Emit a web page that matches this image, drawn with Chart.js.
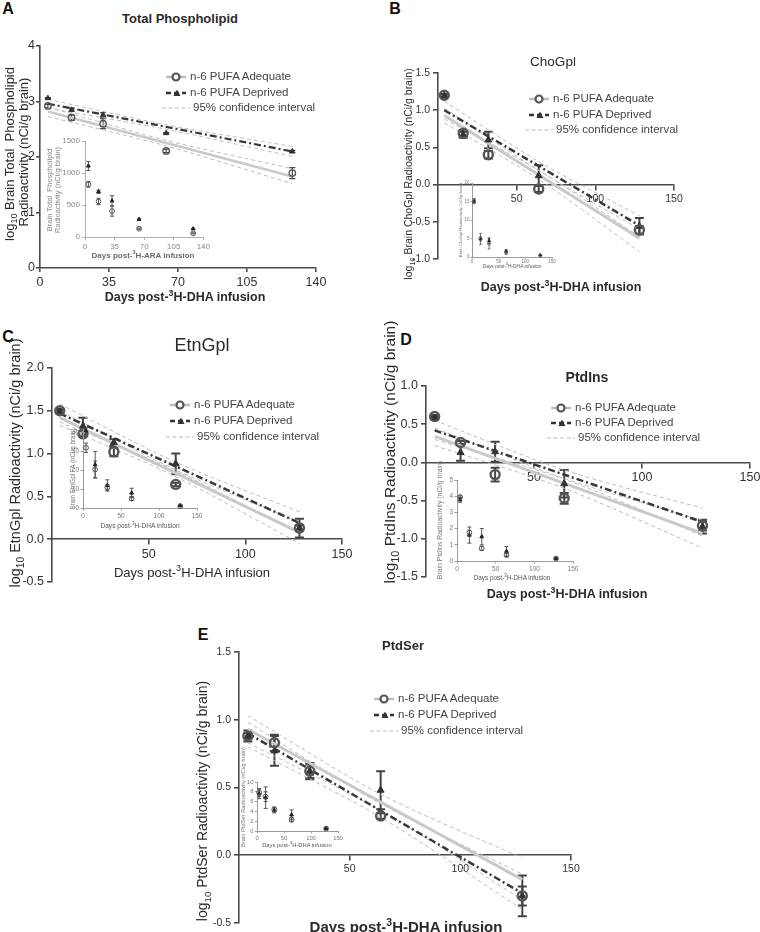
<!DOCTYPE html>
<html><head><meta charset="utf-8">
<script src="https://cdn.jsdelivr.net/npm/chart.js@4.4.1/dist/chart.umd.min.js"></script>
<style>
html,body{margin:0;padding:0;background:#fff}
body{width:760px;height:932px;overflow:hidden;position:relative;font-family:"Liberation Sans",Arial,sans-serif;color:#333}
canvas{position:absolute}
.t{position:absolute;white-space:pre;transform:translate(-50%,-50%);line-height:1}
.r{transform:translate(-50%,-50%) rotate(-90deg)}
sub,sup{font-size:70%;line-height:0}
.leg{position:absolute;white-space:pre;font-size:11.5px;color:#444;line-height:1;transform:translateY(-50%)}
.sym{position:absolute;line-height:0}
</style></head><body>
<script>
// ---------- shared ----------
const days = [4, 16, 32, 64, 128];
const fitDays = [4, 128];
const ciDays = [4, 64, 128];
const legendLabels = ['n-6 PUFA Adequate', 'n-6 PUFA Deprived', '95% confidence interval'];

// ---------- A: Total Phospholipid ----------
const aXTicks = [0, 35, 70, 105, 140];
const aYTicks = [0, 1, 2, 3, 4];
const aAdequate = [2.92, 2.71, 2.60, 2.11, 1.71];
const aAdequateErr = [0.03, 0.05, 0.09, 0.03, 0.10];
const aDeprived = [3.06, 2.85, 2.76, 2.43, 2.10];
const aDeprivedErr = [0.01, 0.03, 0.04, 0.01, 0.02];
const aAdequateFit = [2.82, 1.65];
const aDeprivedFit = [2.96, 2.10];
const aAdequateCiUp = [2.90, 2.30, 1.79];
const aAdequateCiLo = [2.73, 2.20, 1.52];
const aDeprivedCiUp = [3.04, 2.58, 2.19];
const aDeprivedCiLo = [2.88, 2.50, 2.01];
const aInXTicks = [0, 35, 70, 105, 140];
const aInYTicks = [0, 500, 1000, 1500];
const aInAdequate = [823, 555, 405, 130, 57];
const aInAdequateErr = [45, 50, 80, 10, 8];
const aInDeprived = [1110, 708, 565, 276, 128];
const aInDeprivedErr = [70, 25, 80, 10, 8];

// ---------- B: ChoGpl ----------
const bXTicks = [50, 100, 150];
const bYTicks = [-1, -0.5, 0, 0.5, 1, 1.5];
const bAdequate = [1.20, 0.69, 0.40, -0.06, -0.61];
const bAdequateErr = [0.02, 0.04, 0.05, 0.04, 0.05];
const bDeprived = [1.19, 0.67, 0.60, 0.12, -0.56];
const bDeprivedErr = [0.02, 0.04, 0.11, 0.14, 0.11];
const bAdequateFit = [0.93, -0.72];
const bDeprivedFit = [1.00, -0.55];
const bAdequateCiUp = [1.03, 0.19, -0.60];
const bAdequateCiLo = [0.83, 0.07, -0.90];
const bDeprivedCiUp = [1.12, 0.31, -0.42];
const bDeprivedCiLo = [0.88, 0.19, -0.70];
const bInXTicks = [0, 50, 100, 150];
const bInYTicks = [0, 5, 10, 15, 20];
const bInAdequate = [15.2, 4.9, 3.6, 1.2, 0.4];
const bInAdequateErr = [0.6, 0.6, 1.4, 0.5, 0.1];
const bInDeprived = [15.0, 4.9, 4.4, 1.6, 0.5];
const bInDeprivedErr = [0.6, 1.5, 0.8, 0.4, 0.1];

// ---------- C: EtnGpl ----------
const cXTicks = [50, 100, 150];
const cYTicks = [-0.5, 0, 0.5, 1, 1.5, 2];
const cAdequate = [1.50, 1.23, 1.02, 0.64, 0.13];
const cAdequateErr = [0.02, 0.03, 0.05, 0.02, 0.03];
const cDeprived = [1.49, 1.32, 1.13, 0.88, 0.13];
const cDeprivedErr = [0.02, 0.10, 0.04, 0.12, 0.11];
const cAdequateFit = [1.42, 0.08];
const cDeprivedFit = [1.47, 0.19];
const cAdequateCiUp = [1.50, 0.81, 0.20];
const cAdequateCiLo = [1.33, 0.73, -0.05];
const cDeprivedCiUp = [1.58, 0.90, 0.32];
const cDeprivedCiLo = [1.37, 0.80, 0.06];
const cInXTicks = [0, 50, 100, 150];
const cInYTicks = [0, 10, 20, 30, 40];
const cInAdequate = [32, 20.5, 11, 5, 1];
const cInAdequateErr = [2.5, 4.5, 1.5, 1.0, 0.3];
const cInDeprived = [41, 23, 12, 8, 1.3];
const cInDeprivedErr = [1.5, 7, 3, 2.5, 0.3];

// ---------- D: PtdIns ----------
const dXTicks = [50, 100, 150];
const dYTicks = [-1.5, -1, -0.5, 0, 0.5, 1];
const dAdequate = [0.60, 0.26, -0.16, -0.47, -0.83];
const dAdequateErr = [0.02, 0.02, 0.09, 0.07, 0.06];
const dDeprived = [0.58, 0.13, 0.14, -0.28, -0.84];
const dDeprivedErr = [0.02, 0.11, 0.13, 0.18, 0.09];
const dAdequateFit = [0.34, -0.93];
const dDeprivedFit = [0.42, -0.78];
const dAdequateCiUp = [0.45, -0.21, -0.76];
const dAdequateCiLo = [0.22, -0.34, -1.12];
const dDeprivedCiUp = [0.55, -0.10, -0.60];
const dDeprivedCiLo = [0.30, -0.22, -0.96];
const dInXTicks = [0, 50, 100, 150];
const dInYTicks = [0, 1, 2, 3, 4, 5];
const dInAdequate = [3.95, 1.75, 0.78, 0.37, 0.15];
const dInAdequateErr = [0.08, 0.15, 0.12, 0.10, 0.05];
const dInDeprived = [3.78, 1.60, 1.50, 0.60, 0.15];
const dInDeprivedErr = [0.15, 0.50, 0.50, 0.30, 0.05];

// ---------- E: PtdSer ----------
const eXTicks = [50, 100, 150];
const eYTicks = [-0.5, 0, 0.5, 1, 1.5];
const eAdequate = [0.88, 0.83, 0.62, 0.29, -0.30];
const eAdequateErr = [0.04, 0.06, 0.05, 0.02, 0.07];
const eDeprived = [0.88, 0.77, 0.62, 0.48, -0.30];
const eDeprivedErr = [0.02, 0.11, 0.06, 0.14, 0.15];
const eAdequateFit = [0.93, -0.18];
const eDeprivedFit = [0.90, -0.28];
const eAdequateCiUp = [1.03, 0.45, -0.02];
const eAdequateCiLo = [0.83, 0.33, -0.33];
const eDeprivedCiUp = [0.98, 0.38, -0.14];
const eDeprivedCiLo = [0.80, 0.28, -0.40];
const eInXTicks = [0, 50, 100, 150];
const eInYTicks = [0, 2, 4, 6, 8, 10];
const eInAdequate = [7.8, 7.0, 4.4, 2.3, 0.5];
const eInAdequateErr = [0.8, 1.0, 0.5, 0.4, 0.1];
const eInDeprived = [7.6, 6.8, 4.2, 3.3, 0.5];
const eInDeprivedErr = [1.0, 2.2, 0.5, 1.0, 0.1];

// ---------- helpers ----------
const FONT = '"Liberation Sans", Arial, sans-serif';
Chart.defaults.font.family = FONT;

const errorBars = {
  id: 'errorBars',
  beforeDatasetsDraw(chart) {
    const ctx = chart.ctx, xs = chart.scales.x, ys = chart.scales.y;
    chart.data.datasets.forEach((ds) => {
      if (!ds.errors) return;
      ctx.save();
      ctx.strokeStyle = ds.errColor; ctx.lineWidth = ds.errWidth;
      ds.data.forEach((p, j) => {
        const e = ds.errors[j]; if (!e) return;
        const px = xs.getPixelForValue(p.x);
        const y1 = ys.getPixelForValue(p.y + e), y2 = ys.getPixelForValue(p.y - e);
        const c = ds.capW;
        ctx.beginPath();
        ctx.moveTo(px, y1); ctx.lineTo(px, y2);
        ctx.moveTo(px - c, y1); ctx.lineTo(px + c, y1);
        ctx.moveTo(px - c, y2); ctx.lineTo(px + c, y2);
        ctx.stroke();
      });
      ctx.restore();
    });
  }
};

function pts(xs, ys) { return xs.map((x, i) => ({ x: x, y: ys[i] })); }

function buildDatasets(d, st) {
  const list = [
    { data: pts(days, d.adq), showLine: false, pointStyle: 'circle', pointRadius: st.r, pointBorderWidth: st.bw,
      pointBorderColor: st.cColor, pointBackgroundColor: 'rgba(255,255,255,0)', errors: d.adqErr,
      errColor: st.eColor, errWidth: st.ew, capW: st.cap, clip: false },
    { data: pts(days, d.dep), showLine: false, pointStyle: 'triangle', pointRadius: st.tr, pointBorderWidth: 1,
      pointBorderColor: st.tColor, pointBackgroundColor: st.tColor, errors: d.depErr,
      errColor: st.eColor, errWidth: st.ew, capW: st.cap, clip: false }
  ];
  if (d.depFit) {
    list.push({ data: pts(fitDays, d.depFit), showLine: true, pointRadius: 0, borderColor: '#383838',
      borderWidth: st.dw, borderDash: [7, 3, 2, 3], clip: false });
    list.push({ data: pts(fitDays, d.adqFit), showLine: true, pointRadius: 0, borderColor: '#c9c9c9',
      borderWidth: st.gw, clip: false });
    [d.depUp, d.depLo, d.adqUp, d.adqLo].forEach(arr => {
      list.push({ data: pts(ciDays, arr), showLine: true, pointRadius: 0, borderColor: '#bdbdbd',
        borderWidth: 1, borderDash: [4, 3], tension: 0.3, clip: false });
    });
  }
  return list;
}

function makeChart(c, datasets) {
  const pad = c.pad;
  const [x0, y0, x1, y1] = c.area;
  const bottomBox = c.xAtZero ? 0 : c.xh;
  const padBottom = c.xAtZero ? pad : 2;
  const cv = document.createElement('canvas');
  cv.width = Math.round(x1 - x0 + c.yw + pad);
  cv.height = Math.round(y1 - y0 + pad + bottomBox + padBottom);
  cv.style.left = (x0 - c.yw) + 'px';
  cv.style.top = (y0 - pad) + 'px';
  cv.style.width = cv.width + 'px';
  cv.style.height = cv.height + 'px';
  document.body.appendChild(cv);
  const axis = (ticks, fmt, isX) => ({
    type: 'linear',
    min: isX ? c.xMin : c.yMin,
    max: isX ? c.xMax : c.yMax,
    afterBuildTicks: s => { s.ticks = ticks.map(v => ({ value: v })); },
    afterFit: s => { if (isX) { if (!c.xAtZero) s.height = c.xh; } else { s.width = c.yw; } },
    grid: { display: true, drawOnChartArea: false, drawTicks: true, tickLength: c.tick, color: c.axisColor, lineWidth: c.axisW },
    border: { display: true, color: c.axisColor, width: c.axisW },
    ticks: { font: { size: c.fs, family: FONT }, color: c.tickColor, padding: isX ? c.tickPad : (c.yPad != null ? c.yPad : c.tickPad),
      maxRotation: 0, autoSkip: false, callback: v => fmt(v) }
  });
  const xOpt = axis(c.xTicks, v => String(v), true);
  xOpt.position = c.xAtZero ? { y: 0 } : 'bottom';
  const yOpt = axis(c.yTicks, v => v.toFixed(c.yDec), false);
  yOpt.position = 'left';
  return new Chart(cv, {
    type: 'scatter',
    data: { datasets: datasets },
    options: {
      responsive: false, animation: false, devicePixelRatio: 1, events: [],
      layout: { padding: { left: 0, top: pad, right: pad, bottom: padBottom } },
      plugins: { legend: { display: false }, tooltip: { enabled: false }, title: { display: false } },
      scales: { x: xOpt, y: yOpt }
    },
    plugins: [errorBars]
  });
}

function label(html, x, y, size, o) {
  o = o || {};
  const d = document.createElement('div');
  d.className = 't' + (o.rot ? ' r' : '');
  d.style.left = x + 'px'; d.style.top = y + 'px';
  d.style.fontSize = size + 'px';
  if (o.bold) d.style.fontWeight = 'bold';
  d.style.color = o.color || '#2a2a2a';
  d.innerHTML = html;
  document.body.appendChild(d);
}

function legend(tx, ty, gap) {
  const syms = [
    ['<svg width="22" height="12"><line x1="1" y1="6" x2="21" y2="6" stroke="#bdbdbd" stroke-width="2.5"/><circle cx="11" cy="6" r="3.5" fill="#fff" stroke="#555" stroke-width="2.2"/></svg>', 22, 0],
    ['<svg width="22" height="12"><line x1="1" y1="6" x2="21" y2="6" stroke="#333" stroke-width="2.5" stroke-dasharray="5,3"/><path d="M12 2.5 L15.5 9 L8.5 9 Z" fill="#333"/></svg>', 22, 0],
    ['<svg width="28" height="12"><line x1="0" y1="6" x2="28" y2="6" stroke="#bbb" stroke-width="1" stroke-dasharray="4,2.5"/></svg>', 28, 3]
  ];
  legendLabels.forEach((lab, i) => {
    const y = ty + i * gap;
    const s = document.createElement('div');
    s.className = 'sym';
    s.style.left = (tx - syms[i][1] - 3 + syms[i][2]) + 'px';
    s.style.top = (y - 6) + 'px';
    s.innerHTML = syms[i][0];
    document.body.appendChild(s);
    const t = document.createElement('div');
    t.className = 'leg';
    t.style.left = (tx + syms[i][2]) + 'px';
    t.style.top = y + 'px';
    t.textContent = lab;
    document.body.appendChild(t);
  });
}

const mainStyle = { r: 4.5, bw: 2.4, tr: 4, cColor: '#555', tColor: '#333', eColor: '#444', ew: 2, cap: 4.5, dw: 2.5, gw: 3 };
const aStyle = { r: 3.2, bw: 1.4, tr: 3, cColor: '#555', tColor: '#333', eColor: '#444', ew: 1.2, cap: 3, dw: 2.2, gw: 2.5 };
const inStyle = { r: 2.4, bw: 1, tr: 2.2, cColor: '#555', tColor: '#222', eColor: '#444', ew: 0.9, cap: 2, dw: 0, gw: 0 };
const inTiny = { r: 1.6, bw: 0.8, tr: 1.6, cColor: '#555', tColor: '#222', eColor: '#444', ew: 0.7, cap: 1.4, dw: 0, gw: 0 };
const mainAxis = { axisColor: '#4a4a4a', axisW: 1.6, tickColor: '#333', tick: 5, tickPad: 3, pad: 14 };
const inAxis = { axisColor: '#9a9a9a', axisW: 1, tickColor: '#777', tick: 2.5, tickPad: 1.5, pad: 8 };

// ---------- Panel A ----------
makeChart(Object.assign({}, mainAxis, { tick: 4, yPad: 1, area: [40, 46, 316, 268], yw: 34, xh: 28, xAtZero: false, xMin: 0, xMax: 140, yMin: 0, yMax: 4,
  xTicks: aXTicks, yTicks: aYTicks, yDec: 0, fs: 12.5 }),
  buildDatasets({ adq: aAdequate, adqErr: aAdequateErr, dep: aDeprived, depErr: aDeprivedErr, adqFit: aAdequateFit, depFit: aDeprivedFit,
    adqUp: aAdequateCiUp, adqLo: aAdequateCiLo, depUp: aDeprivedCiUp, depLo: aDeprivedCiLo }, aStyle));
makeChart(Object.assign({}, inAxis, { axisColor: '#b0b0b0', tickColor: '#8a8a8a', tick: 3, tickPad: 2,
  area: [85, 141, 204, 237], yw: 28, xh: 16, xAtZero: false, xMin: 0, xMax: 140, yMin: 0, yMax: 1500,
  xTicks: aInXTicks, yTicks: aInYTicks, yDec: 0, fs: 8 }),
  buildDatasets({ adq: aInAdequate, adqErr: aInAdequateErr, dep: aInDeprived, depErr: aInDeprivedErr }, inStyle));

// ---------- Panel B ----------
makeChart(Object.assign({}, mainAxis, { area: [438, 73, 674, 259], yw: 30, xAtZero: true, xMin: 0, xMax: 150, yMin: -1, yMax: 1.5,
  xTicks: bXTicks, yTicks: bYTicks, yDec: 1, fs: 10.5 }),
  buildDatasets({ adq: bAdequate, adqErr: bAdequateErr, dep: bDeprived, depErr: bDeprivedErr, adqFit: bAdequateFit, depFit: bDeprivedFit,
    adqUp: bAdequateCiUp, adqLo: bAdequateCiLo, depUp: bDeprivedCiUp, depLo: bDeprivedCiLo }, mainStyle));
makeChart(Object.assign({}, inAxis, { tick: 1.5, tickPad: 1, pad: 6,
  area: [472, 183, 552, 257], yw: 10, xh: 8, xAtZero: false, xMin: 0, xMax: 150, yMin: 0, yMax: 20,
  xTicks: bInXTicks, yTicks: bInYTicks, yDec: 0, fs: 4.5 }),
  buildDatasets({ adq: bInAdequate, adqErr: bInAdequateErr, dep: bInDeprived, depErr: bInDeprivedErr }, inTiny));

// ---------- Panel C ----------
makeChart(Object.assign({}, mainAxis, { area: [52, 368, 342, 582], yw: 32, xAtZero: true, xMin: 0, xMax: 150, yMin: -0.5, yMax: 2,
  xTicks: cXTicks, yTicks: cYTicks, yDec: 1, fs: 12.5 }),
  buildDatasets({ adq: cAdequate, adqErr: cAdequateErr, dep: cDeprived, depErr: cDeprivedErr, adqFit: cAdequateFit, depFit: cDeprivedFit,
    adqUp: cAdequateCiUp, adqLo: cAdequateCiLo, depUp: cDeprivedCiUp, depLo: cDeprivedCiLo }, mainStyle));
makeChart(Object.assign({}, inAxis, { area: [83, 429, 197, 508], yw: 14, xh: 12, xAtZero: false, xMin: 0, xMax: 150, yMin: 0, yMax: 42,
  xTicks: cInXTicks, yTicks: cInYTicks, yDec: 0, fs: 6.5 }),
  buildDatasets({ adq: cInAdequate, adqErr: cInAdequateErr, dep: cInDeprived, depErr: cInDeprivedErr }, inStyle));

// ---------- Panel D ----------
makeChart(Object.assign({}, mainAxis, { area: [426, 386, 750, 577], yw: 32, xAtZero: true, xMin: 0, xMax: 150, yMin: -1.5, yMax: 1,
  xTicks: dXTicks, yTicks: dYTicks, yDec: 1, fs: 12.5 }),
  buildDatasets({ adq: dAdequate, adqErr: dAdequateErr, dep: dDeprived, depErr: dDeprivedErr, adqFit: dAdequateFit, depFit: dDeprivedFit,
    adqUp: dAdequateCiUp, adqLo: dAdequateCiLo, depUp: dDeprivedCiUp, depLo: dDeprivedCiLo }, mainStyle));
makeChart(Object.assign({}, inAxis, { area: [457, 480, 573, 561], yw: 12, xh: 12, xAtZero: false, xMin: 0, xMax: 150, yMin: 0, yMax: 5,
  xTicks: dInXTicks, yTicks: dInYTicks, yDec: 0, fs: 6.5 }),
  buildDatasets({ adq: dInAdequate, adqErr: dInAdequateErr, dep: dInDeprived, depErr: dInDeprivedErr }, inStyle));

// ---------- Panel E ----------
makeChart(Object.assign({}, mainAxis, { area: [239, 652, 571, 923], yw: 30, xAtZero: true, xMin: 0, xMax: 150, yMin: -0.5, yMax: 1.5,
  xTicks: eXTicks, yTicks: eYTicks, yDec: 1, fs: 10.5 }),
  buildDatasets({ adq: eAdequate, adqErr: eAdequateErr, dep: eDeprived, depErr: eDeprivedErr, adqFit: eAdequateFit, depFit: eDeprivedFit,
    adqUp: eAdequateCiUp, adqLo: eAdequateCiLo, depUp: eDeprivedCiUp, depLo: eDeprivedCiLo }, mainStyle));
makeChart(Object.assign({}, inAxis, { tick: 2, pad: 7, area: [257, 782, 338, 831], yw: 11, xh: 11, xAtZero: false, xMin: 0, xMax: 150, yMin: 0, yMax: 10,
  xTicks: eInXTicks, yTicks: eInYTicks, yDec: 0, fs: 5.8 }),
  buildDatasets({ adq: eInAdequate, adqErr: eInAdequateErr, dep: eInDeprived, depErr: eInDeprivedErr }, inStyle));

// ---------- text ----------
const xTitle = 'Days post-<sup>3</sup>H-DHA infusion';
// panel letters
label('A', 8, 9, 16, { bold: true, color: '#111' });
label('B', 395, 9, 16, { bold: true, color: '#111' });
label('C', 8, 337, 16, { bold: true, color: '#111' });
label('D', 406, 340, 16, { bold: true, color: '#111' });
label('E', 203, 635, 16, { bold: true, color: '#111' });
// titles
label('Total Phospholipid', 180, 18, 13, { bold: true });
label('ChoGpl', 553, 62, 13.5);
label('EtnGpl', 202, 345, 18);
label('PtdIns', 587, 377, 14, { bold: true });
label('PtdSer', 403, 645, 13, { bold: true });
// x titles
label(xTitle, 185, 297, 12.5, { bold: true });
label(xTitle, 561, 287, 12.5, { bold: true });
label(xTitle, 192, 572, 13);
label(xTitle, 567, 594, 12.5, { bold: true });
label(xTitle, 406, 926, 15, { bold: true });
// y titles
label('log<sub>10</sub> Brain Total  Phospholipid', 9, 154, 13, { rot: true });
label('Radioactivity (nCi/g brain)', 23, 152, 13, { rot: true });
label('log<sub>10</sub> Brain ChoGpl Radioactivity (nCi/g brain)', 408, 174, 10.5, { rot: true });
label('log<sub>10</sub> EtnGpl Radioactivity (nCi/g brain)', 15, 463, 14.5, { rot: true });
label('log<sub>10</sub> PtdIns Radioactivity (nCi/g brain)', 390, 452, 15.5, { rot: true });
label('log<sub>10</sub> PtdSer Radioactivity (nCi/g brain)', 202, 801, 14, { rot: true });
// inset titles
label('Brain Total  Phospholipid', 50, 190, 7.5, { rot: true, color: '#8a8a8a' });
label('Radioactivity (nCi/g brain)', 58, 190, 7.5, { rot: true, color: '#8a8a8a' });
label('Days post-<sup>3</sup>H-ARA infusion', 143, 256, 8, { bold: true, color: '#6a6a6a' });
label('Brain ChoGpl Radioactivity (nCi/g brain)', 461, 220, 4.2, { rot: true, color: '#777' });
label(xTitle, 512, 267, 4.9, { color: '#555' });
label('Brain EtnGpl FA (nCi/g brain)', 73, 469, 6.3, { rot: true, color: '#777' });
label(xTitle, 140, 526, 6.6, { color: '#555' });
label('Brain PtdIns Radioactivity (nCi/g brain)', 440, 520, 6.9, { rot: true, color: '#777' });
label(xTitle, 512, 578, 6.4, { color: '#555' });
label('Brain PtdSer Radioactivity (nCi/g brain)', 244, 797, 5.75, { rot: true, color: '#777' });
label(xTitle, 297, 846, 5.8, { color: '#555' });
// legends
legend(190, 77, 15.5);
legend(553, 99, 15.5);
legend(194, 405, 16);
legend(575, 408, 15);
legend(398, 699, 16);
</script>
</body></html>
